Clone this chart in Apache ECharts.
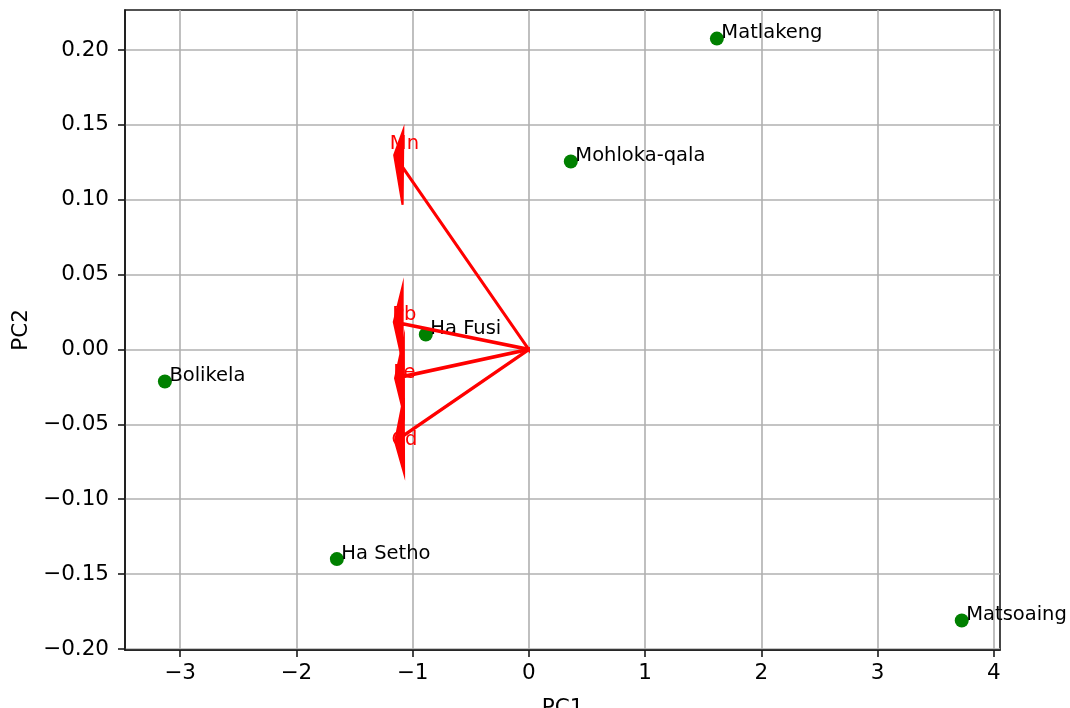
<!DOCTYPE html>
<html>
<head>
<meta charset="utf-8">
<title>PCA biplot</title>
<script src="https://cdn.jsdelivr.net/npm/echarts@6/dist/echarts.min.js"></script>
<style>
  html, body { margin: 0; padding: 0; background: #ffffff; }
  #chart { width: 1070px; height: 708px; }
</style>
</head>
<body>
<div id="chart"></div>
<script>
// Site scores on the first two principal components
const sites = ['Bolikela', 'Ha Fusi', 'Ha Setho', 'Matlakeng', 'Matsoaing', 'Mohloka-qala'];
const pc1 = [-3.13, -0.886, -1.651, 1.617, 3.723, 0.361];
const pc2 = [-0.0214, 0.010, -0.140, 0.2076, -0.181, 0.1255];

// Variable loadings (arrow ends) and where their names sit
const variables = ['Mn', 'Pb', 'Fe', 'Cd'];
const loadX = [-1.083, -1.086, -1.075, -1.075];
const loadY = [0.1215, 0.0172, -0.0180, -0.0574];
const nameX = [-1.07, -1.07, -1.07, -1.07];
const nameY = [0.1375, 0.0233, -0.0160, -0.0607];

// Axis ranges and tick positions
const xRange = [-3.473, 4.052];
const yRange = [-0.2007, 0.2267];
const xTicks = [-3, -2, -1, 0, 1, 2, 3, 4];
const yTicks = [-0.20, -0.15, -0.10, -0.05, 0.00, 0.05, 0.10, 0.15, 0.20];

// Arrow geometry in data units (head width / head length / shaft width)
const HEAD_W = 0.05, HEAD_L = 0.075, SHAFT_W = 0.001;

const FONT = 'DejaVu Sans';
const minus = s => String(s).replace('-', '\u2212');

const scatterData = sites.map((s, i) => ({ name: s, value: [pc1[i], pc2[i]] }));
const arrowData = variables.map((v, i) => ({ name: v, value: [loadX[i], loadY[i], nameX[i], nameY[i]] }));

function renderArrow(params, api) {
  const dx = api.value(0), dy = api.value(1);
  const dist = Math.hypot(dx, dy);
  const ux = dx / dist, uy = dy / dist;      // direction
  const nx = -uy, ny = ux;                    // normal
  const pts = [
    [dx + HEAD_L * ux, dy + HEAD_L * uy],
    [dx + HEAD_W / 2 * nx, dy + HEAD_W / 2 * ny],
    [dx + SHAFT_W / 2 * nx, dy + SHAFT_W / 2 * ny],
    [SHAFT_W / 2 * nx, SHAFT_W / 2 * ny],
    [-SHAFT_W / 2 * nx, -SHAFT_W / 2 * ny],
    [dx - SHAFT_W / 2 * nx, dy - SHAFT_W / 2 * ny],
    [dx - HEAD_W / 2 * nx, dy - HEAD_W / 2 * ny]
  ].map(p => api.coord(p));
  const lp = api.coord([api.value(2), api.value(3)]);
  return {
    type: 'group',
    children: [
      {
        type: 'text',
        style: {
          text: variables[params.dataIndex],
          x: lp[0], y: lp[1],
          fill: '#ff0000',
          font: '19.5px "' + FONT + '"',
          align: 'center',
          verticalAlign: 'middle'
        }
      },
      {
        type: 'polygon',
        shape: { points: pts },
        style: { fill: '#ff0000', stroke: '#ff0000', lineWidth: 2.2, lineJoin: 'miter' }
      }
    ]
  };
}

const axisCommon = {
  type: 'value',
  nameLocation: 'middle',
  nameTextStyle: { fontSize: 21.5, color: '#000', fontFamily: FONT },
  axisLine: { show: true, onZero: false, lineStyle: { color: '#1a1a1a', width: 1.6 } },
  splitLine: { show: true, lineStyle: { color: '#b0b0b0', width: 1.6 } }
};

const chart = echarts.init(document.getElementById('chart'), null, { renderer: 'canvas' });
chart.setOption({
  animation: false,
  backgroundColor: '#ffffff',
  textStyle: { fontFamily: FONT },
  grid: {
    left: 125, right: 70, top: 10, bottom: 58,
    outerBoundsMode: 'none',
    containLabel: false,
    show: true, borderColor: '#1a1a1a', borderWidth: 1.6, backgroundColor: 'transparent'
  },
  xAxis: Object.assign({}, axisCommon, {
    min: xRange[0], max: xRange[1],
    name: 'PC1', nameGap: 47,
    axisTick: { show: true, length: 7, customValues: xTicks, lineStyle: { color: '#1a1a1a', width: 1.6 } },
    axisLabel: {
      customValues: xTicks, margin: 12,
      fontSize: 21.5, color: '#000', fontFamily: FONT,
      formatter: v => minus(v)
    }
  }),
  yAxis: Object.assign({}, axisCommon, {
    min: yRange[0], max: yRange[1],
    name: 'PC2', nameGap: 91,
    axisTick: { show: true, length: 7, customValues: yTicks, lineStyle: { color: '#1a1a1a', width: 1.6 } },
    axisLabel: {
      customValues: yTicks, margin: 16,
      fontSize: 21.5, color: '#000', fontFamily: FONT,
      formatter: v => minus(v.toFixed(2))
    }
  }),
  series: [
    {
      type: 'scatter',
      data: scatterData,
      symbolSize: 14,
      itemStyle: { color: '#008000', opacity: 1 },
      z: 2,
      label: {
        show: true,
        formatter: '{b}',
        position: [11.5, 1.5],
        align: 'left',
        verticalAlign: 'middle',
        fontSize: 19.5,
        color: '#000',
        fontFamily: FONT
      }
    },
    {
      type: 'custom',
      data: arrowData,
      renderItem: renderArrow,
      clip: false,
      z: 3
    }
  ]
});
</script>
</body>
</html>
